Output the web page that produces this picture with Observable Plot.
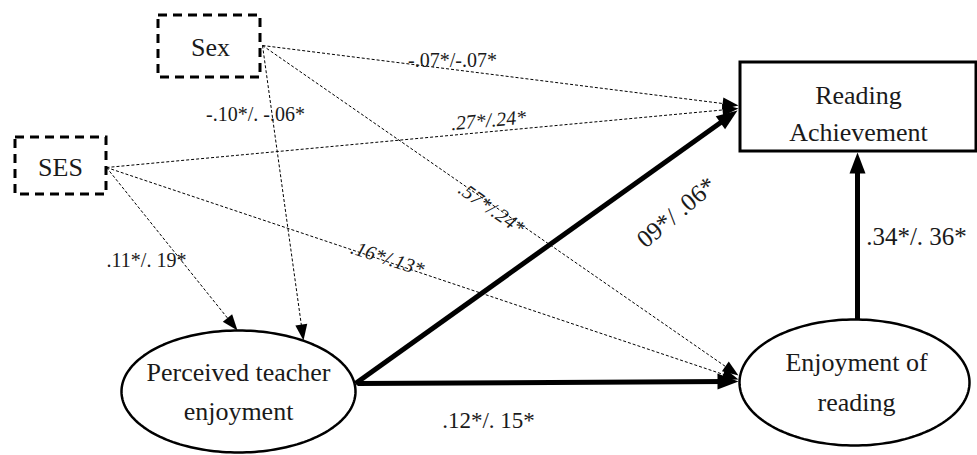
<!DOCTYPE html>
<html><head><meta charset="utf-8">
<script src="https://cdn.jsdelivr.net/npm/d3@7"></script>
<script src="https://cdn.jsdelivr.net/npm/@observablehq/plot@0.6"></script>
<style>body{margin:0;background:#fff} #chart svg{display:block}</style>
</head><body><div id="chart"></div>
<script>
// Observed variables (boxes)
const boxNames = ["Sex", "SES", "Reading Achievement"];
const boxX1 = [158, 15, 740];
const boxX2 = [260, 106, 976];
const boxY1 = [15, 137, 62];
const boxY2 = [77, 194, 151];
const boxDashed = [true, true, false];

// Latent variables (ellipses)
const ellNames = ["Perceived teacher enjoyment", "Enjoyment of reading"];
const ellCx = [238, 854];
const ellCy = [391, 382];
const ellRx = [117, 115];
const ellRy = [61, 63];

// Node label lines
const nodeLines = ["Sex", "SES", "Reading", "Achievement", "Perceived teacher", "enjoyment", "Enjoyment of", "reading"];
const nodeLineX = [210, 60, 858, 858, 238, 238, 856, 856];
const nodeLineY = [47, 167, 95, 132, 372, 411, 362, 402];

// Paths: from, to, coefficients
const pathFrom = ["Sex", "SES", "Sex", "SES", "SES", "Sex", "PTE", "PTE", "EOR"];
const pathTo = ["RA", "RA", "EOR", "EOR", "PTE", "PTE", "RA", "EOR", "RA"];
const pathCoef = ["-.07*/-.07*", ".27*/.24*", ".57*/.24*", ".16*/.13*", ".11*/. 19*", "-.10*/. -.06*", "09*/ .06*", ".12*/. 15*", ".34*/. 36*"];
const pathBold = [false, false, false, false, false, false, true, true, true];
const pathX1 = [262, 106, 262, 106, 106, 262, 355, 357, 857];
const pathY1 = [45, 167, 45, 167, 167, 45, 383, 383, 320];
const pathX2 = [738, 738, 738, 738, 237, 303, 737, 738, 857];
const pathY2 = [105, 108, 375, 379, 330, 340, 110, 381, 152];
const labelX = [452, 488, 491, 387, 146, 255, 676, 488, 916];
const labelY = [60, 120, 208, 258, 260, 114, 212, 420, 236];
const labelRotate = [0, -5, 35, 18, 0, 0, -40, 0, 0];
const labelSize = [20, 20, 20, 20, 20, 20, 25, 23, 25];
const labelItalic = [false, true, true, true, false, false, false, false, false];

// Build tables
const boxes = boxNames.map((n, i) => ({n, x1: boxX1[i], x2: boxX2[i], y1: boxY1[i], y2: boxY2[i], dashed: boxDashed[i]}));
const ellPts = [];
ellNames.forEach((n, i) => {
  d3.range(0, 360, 2).forEach(a => {
    const t = a * Math.PI / 180;
    ellPts.push({id: n, x: ellCx[i] + ellRx[i] * Math.cos(t), y: ellCy[i] + ellRy[i] * Math.sin(t)});
  });
});
const nodeText = nodeLines.map((t, i) => ({t, x: nodeLineX[i], y: nodeLineY[i]}));
const paths = pathCoef.map((c, i) => {
  const dx = pathX2[i] - pathX1[i], dy = pathY2[i] - pathY1[i];
  const L = Math.hypot(dx, dy);
  const back = pathBold[i] ? 12 : 8;
  return {
    c, bold: pathBold[i],
    x1: pathX1[i], y1: pathY1[i], x2: pathX2[i], y2: pathY2[i],
    ex: pathX2[i] - dx / L * back, ey: pathY2[i] - dy / L * back,
    ang: Math.atan2(dx, -dy) * 180 / Math.PI,
    lx: labelX[i], ly: labelY[i], rot: labelRotate[i], size: labelSize[i], italic: labelItalic[i]
  };
});

const headThin = {draw(ctx) { ctx.moveTo(0, 0); ctx.lineTo(-6, 16); ctx.lineTo(6, 16); ctx.closePath(); }};
const headBold = {draw(ctx) { ctx.moveTo(0, 0); ctx.lineTo(-8, 21); ctx.lineTo(8, 21); ctx.closePath(); }};

const font = "Liberation Serif, Times New Roman, serif";

const chart = Plot.plot({
  width: 977, height: 455,
  margin: 0,
  x: {domain: [0, 977], range: [0, 977], axis: null},
  y: {domain: [0, 455], range: [0, 455], axis: null},
  style: {fontFamily: font, background: "white"},
  marks: [
    Plot.link(paths.filter(d => !d.bold), {x1: "x1", y1: "y1", x2: "ex", y2: "ey", stroke: "black", strokeWidth: 1, strokeDasharray: "3,2"}),
    Plot.link(paths.filter(d => d.bold), {x1: "x1", y1: "y1", x2: "ex", y2: "ey", stroke: "black", strokeWidth: 5}),
    Plot.dot(paths.filter(d => !d.bold), {x: "x2", y: "y2", rotate: "ang", symbol: headThin, fill: "black", stroke: "none", r: 5}),
    Plot.dot(paths.filter(d => d.bold), {x: "x2", y: "y2", rotate: "ang", symbol: headBold, fill: "black", stroke: "none", r: 5}),
    Plot.rect(boxes.filter(d => d.dashed), {x1: "x1", x2: "x2", y1: "y1", y2: "y2", fill: "white", stroke: "black", strokeWidth: 3, strokeDasharray: "9,6"}),
    Plot.rect(boxes.filter(d => !d.dashed), {x1: "x1", x2: "x2", y1: "y1", y2: "y2", fill: "white", stroke: "black", strokeWidth: 3}),
    Plot.line(ellPts, {x: "x", y: "y", z: "id", curve: "linear-closed", stroke: "black", strokeWidth: 2.5, fill: "white"}),
    Plot.text(nodeText, {x: "x", y: "y", text: "t", fontSize: 26, fontFamily: font, fill: "#1a1a1a"}),
    Plot.text(paths.filter(d => !d.italic), {x: "lx", y: "ly", text: "c", rotate: "rot", fontSize: "size", fontFamily: font, fill: "#1a1a1a"}),
    Plot.text(paths.filter(d => d.italic), {x: "lx", y: "ly", text: "c", rotate: "rot", fontSize: "size", fontFamily: font, fontStyle: "italic", fill: "#1a1a1a"})
  ]
});
document.getElementById("chart").append(chart);
</script>
</body></html>
